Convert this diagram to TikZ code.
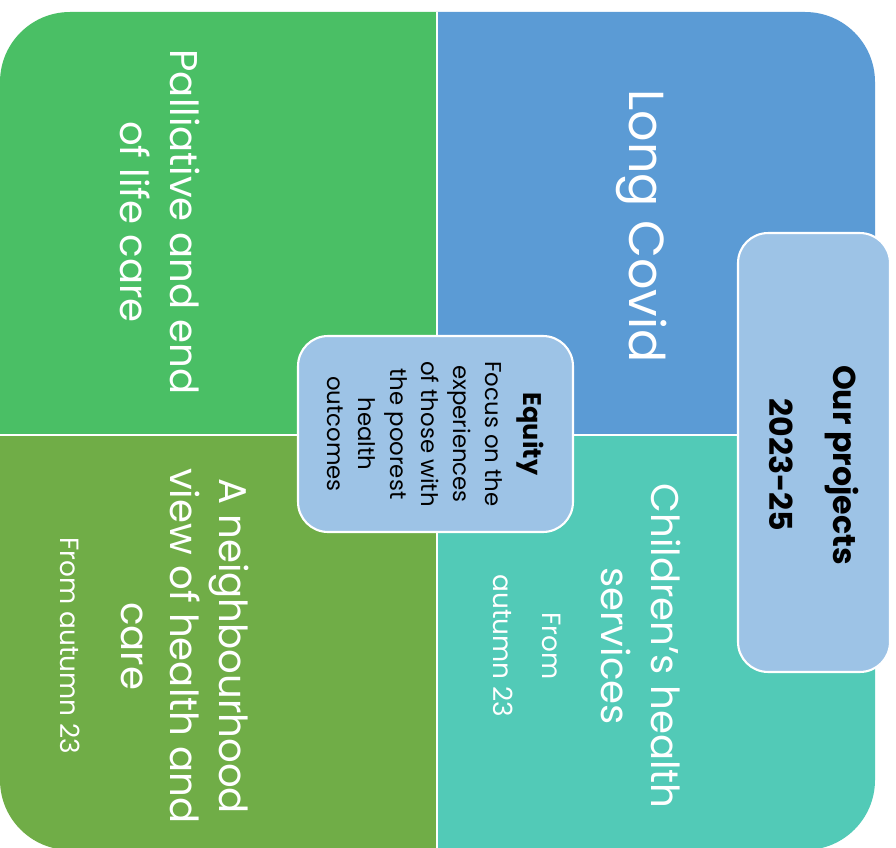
\documentclass[tikz,border=0pt]{standalone}
\usepackage{fontspec}
\setmainfont{Poppins}
\usepackage{tikz}
\usetikzlibrary{positioning}
\definecolor{quadgreen}{RGB}{74,191,101}
\definecolor{quadblue}{RGB}{91,155,213}
\definecolor{quadolive}{RGB}{112,173,71}
\definecolor{quadteal}{RGB}{82,202,183}
\definecolor{boxblue}{RGB}{157,195,230}

\begin{document}
\begin{tikzpicture}[
  x=0.02cm, y=-0.02cm,
  box/.style={rectangle, draw=white, line width=1.2pt, fill=boxblue, rounded corners=0.6cm, rotate=-90, align=center, inner sep=0pt},
  quadtext/.style={rotate=-90, align=center, text=white, inner sep=0pt, font=\fontsize{22}{28}\selectfont},
  smalltext/.style={rotate=-90, align=center, text=white, inner sep=0pt, font=\fontsize{15}{28}\selectfont}
]
\useasboundingbox (0,0) rectangle (896,848);
\begin{scope}
  \clip[rounded corners=1.4cm] (0,12) rectangle (875,850);
  \fill[quadgreen] (0,0) rectangle (437,435);
  \fill[quadblue] (437,0) rectangle (896,435);
  \fill[quadolive] (0,435) rectangle (437,860);
  \fill[quadteal] (437,435) rectangle (896,860);
\end{scope}
\draw[white, line width=1pt] (437,12) -- (437,850);
\draw[white, line width=1pt] (0,435) -- (875,435);

\node[quadtext] (palliative) at (160,222) {Palliative and end\\of life care};
\node[quadtext, font=\fontsize{28}{34}\selectfont] (longcovid) at (642,226) {Long Covid};
\node[quadtext] (neighbourhood) at (185,646) {A neighbourhood\\view of health and\\care};
\node[smalltext] (nbfrom) at (70,646) {From autumn 23};
\node[quadtext] (children) at (641,646) {Children’s health\\services};
\node[smalltext] (chfrom) at (527,646) {From\\autumn 23};

\node[box, minimum width=3.92cm, minimum height=5.5cm, font=\fontsize{13}{18}\selectfont] (equity) at (435.5,434)
  {{\fontsize{14.5}{18}\selectfont\bfseries Equity}\\[4pt]Focus on the\\experiences\\of those with\\the poorest\\health\\outcomes};
\node[box, minimum width=8.78cm, minimum height=3.04cm, font=\fontsize{18}{36}\selectfont\bfseries] (projects) at (814,452.5)
  {\hspace*{0.5cm}Our projects\\\hspace*{0.5cm}2023-25};
\end{tikzpicture}
\end{document}
